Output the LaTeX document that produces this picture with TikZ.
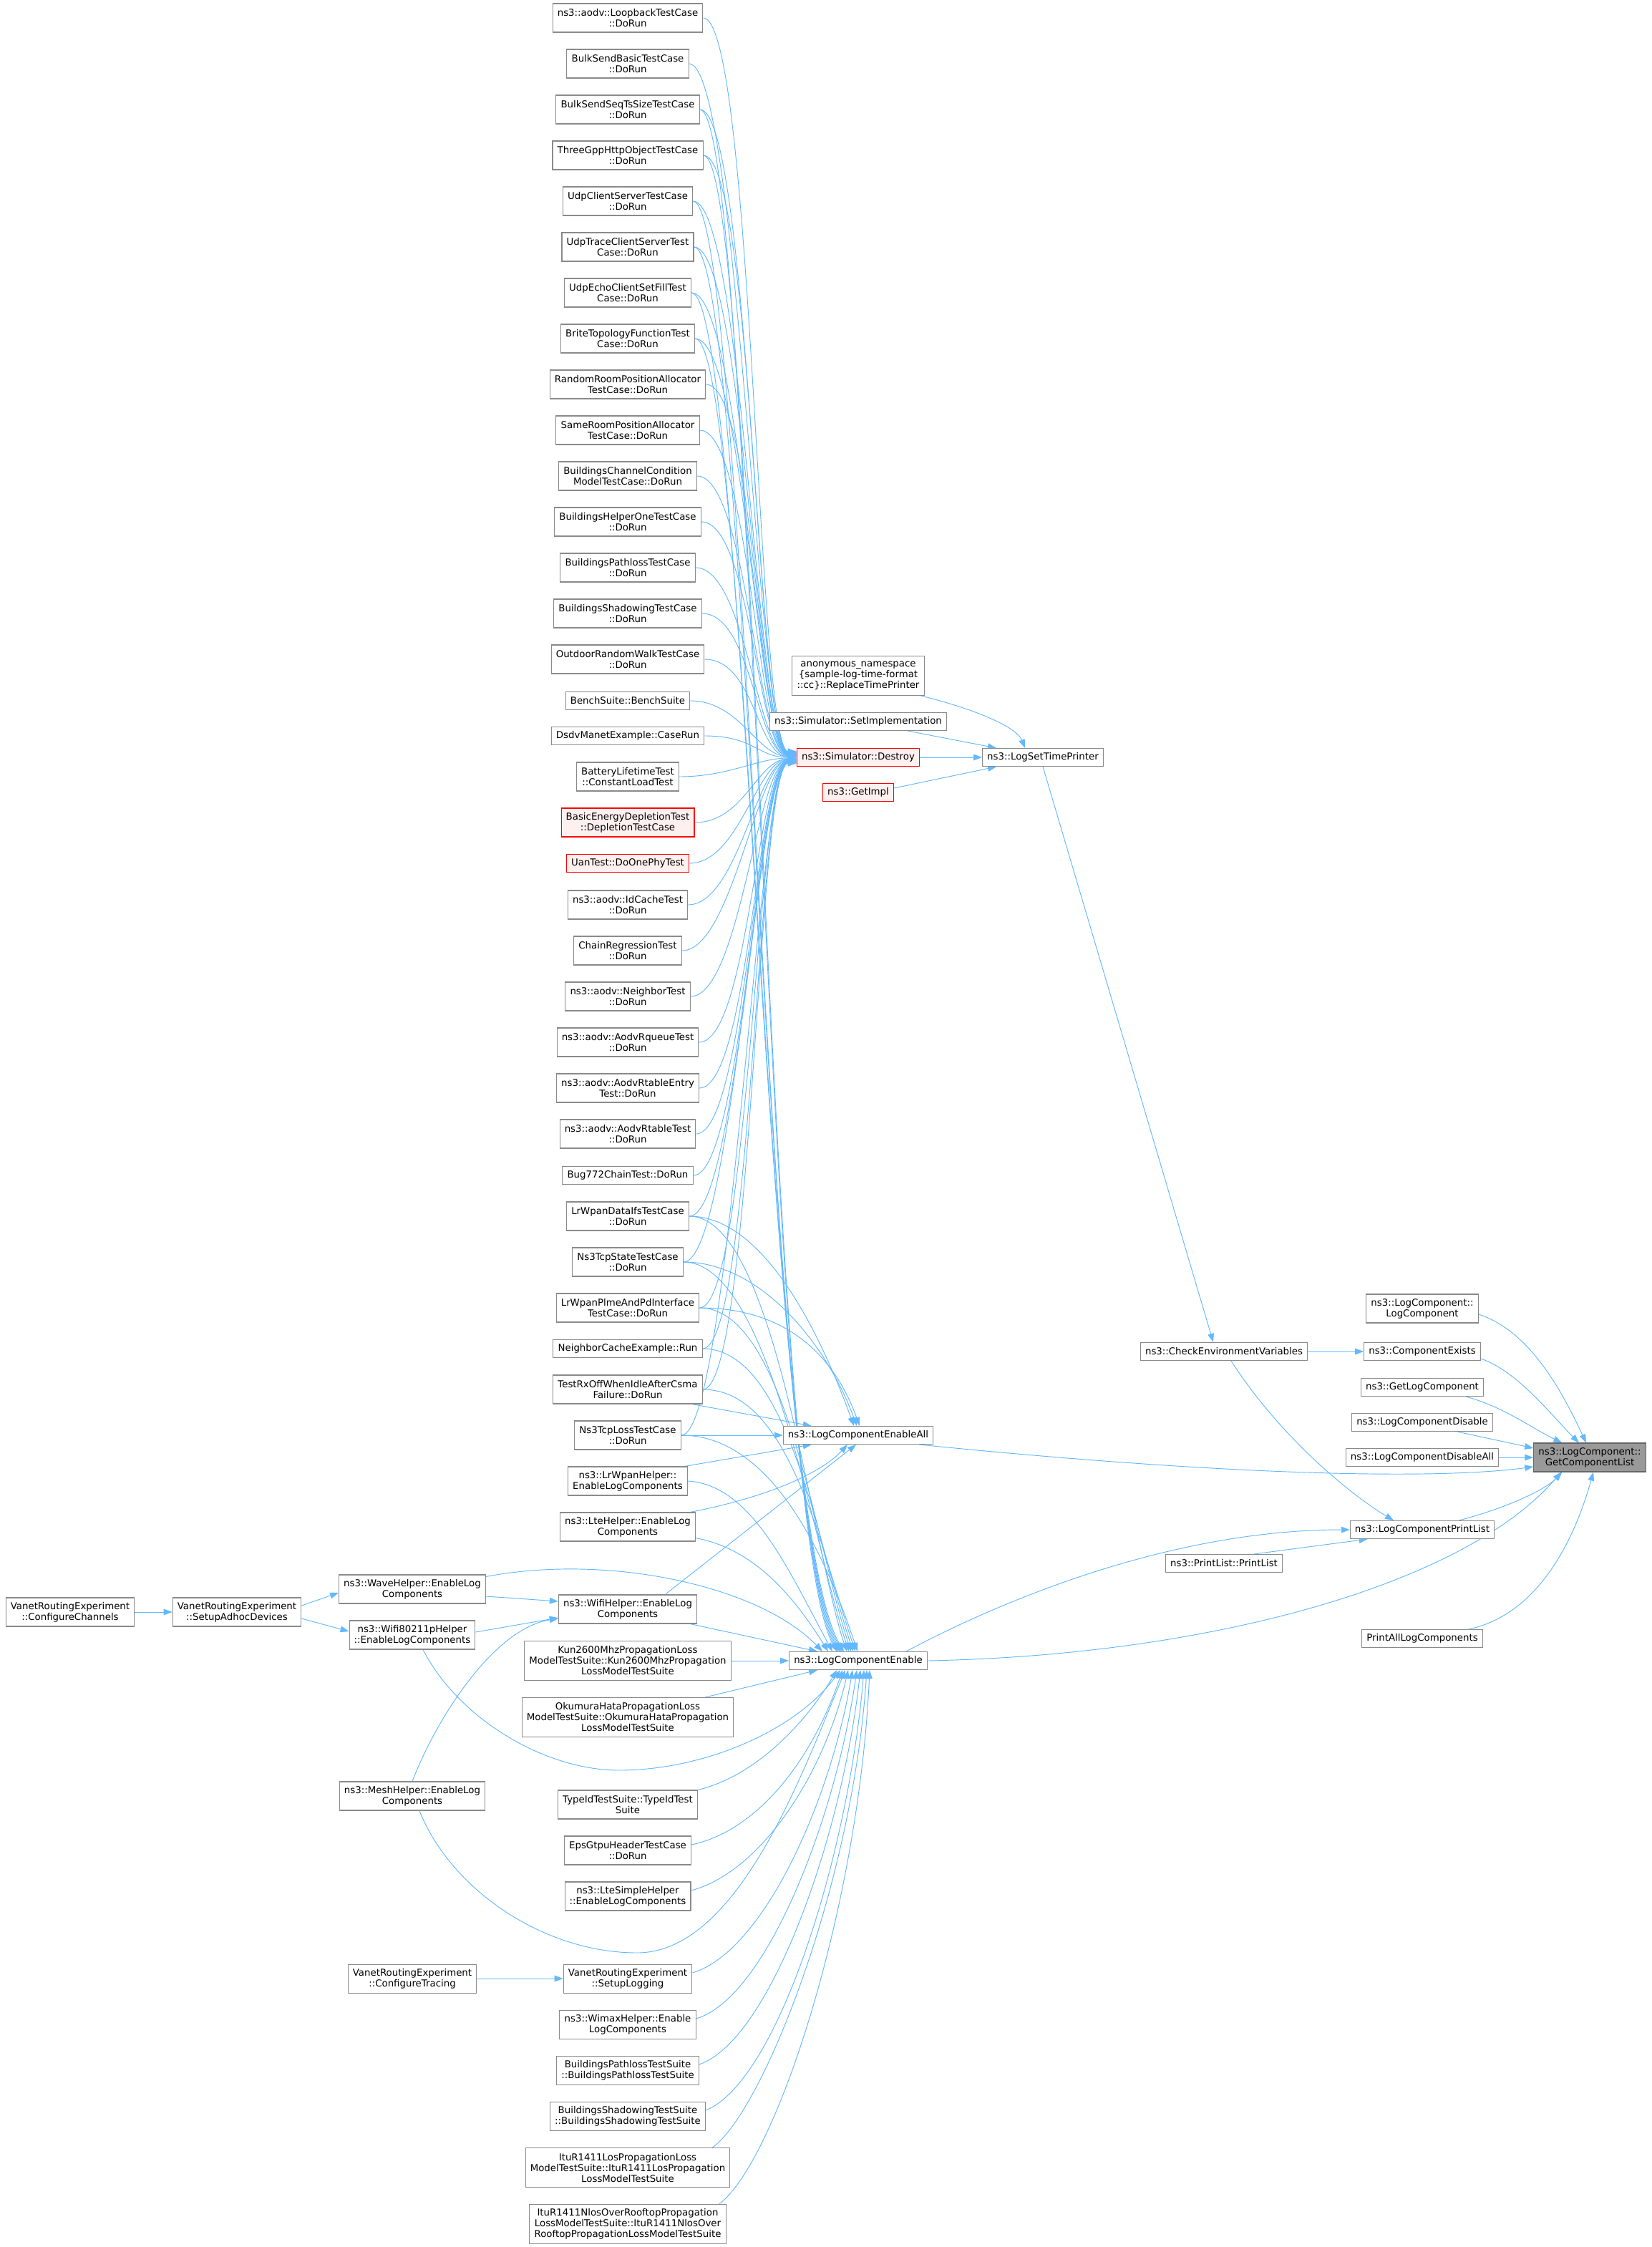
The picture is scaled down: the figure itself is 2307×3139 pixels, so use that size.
\documentclass[tikz,border=0pt]{standalone}
\usepackage{fontspec}
\setmainfont{DejaVu Sans}
\usetikzlibrary{arrows.meta,calc}
\pgfdeclarelayer{bg}
\pgfdeclarelayer{edges}
\pgfsetlayers{bg,edges,main}
\definecolor{edgecol}{HTML}{63B8FF}
\definecolor{ndline}{HTML}{8A8A8A}
\definecolor{redfill}{HTML}{FFF0F0}
\definecolor{hlfill}{HTML}{999999}
\definecolor{hlline}{HTML}{666666}
\newcommand\fnt{\fontsize{10pt}{11.25pt}\selectfont}
\newcommand\ED[2]{\draw[e] (#1.east) .. controls +(70,0) and +(-55,0) .. ($(des.west)+(0,#2)$);}
\newcommand\EU[2]{\draw[e] (#1.east) .. controls +(75,0) and (1068,2120) .. ($(en.north)+(#2,0)$);}
\newcommand\EL[2]{\draw[e] (#1.east) .. controls +(120,0) and +(-50,-150) .. ($(en.north)+(#2,0)$);}
\newcommand\EA[2]{\draw[e] (#1.east) .. controls +(110,0) and +(-40,-110) .. ($(ea.north)+(#2,0)$);}
\begin{document}
\begin{tikzpicture}[x=0.75pt,y=-0.75pt,
  nd/.style={draw=ndline, fill=white, line width=0.8pt, inner xsep=5pt, inner ysep=0pt, align=center, font=\fnt, text=black},
  n1/.style={nd, minimum height=18.75pt},
  n2/.style={nd, minimum height=30pt},
  n3/.style={nd, minimum height=41.25pt},
  rn/.style={draw=red, fill=redfill},
  hl/.style={draw=hlline, fill=hlfill},
  e/.style={draw=edgecol, line width=0.7pt, -{Triangle[length=9pt,width=6.5pt]}}]
\useasboundingbox (0,0) rectangle (2307,3139);
\begin{pgfonlayer}{bg}
\fill[white] (0,0) rectangle (2307,3139);
\end{pgfonlayer}

% ---------- left column ----------
\node[n2] (t1) at (877,25) {ns3::aodv::LoopbackTestCase\\::DoRun};
\node[n2] (t2) at (877,89) {BulkSendBasicTestCase\\::DoRun};
\node[n2] (t3) at (877,153) {BulkSendSeqTsSizeTestCase\\::DoRun};
\node[n2] (t4) at (877,217) {ThreeGppHttpObjectTestCase\\::DoRun};
\node[n2] (t5) at (877,281) {UdpClientServerTestCase\\::DoRun};
\node[n2] (t6) at (877,345) {UdpTraceClientServerTest\\Case::DoRun};
\node[n2] (t7) at (877,409) {UdpEchoClientSetFillTest\\Case::DoRun};
\node[n2] (t8) at (877,473) {BriteTopologyFunctionTest\\Case::DoRun};
\node[n2] (t9) at (877,537) {RandomRoomPositionAllocator\\TestCase::DoRun};
\node[n2] (t10) at (877,601) {SameRoomPositionAllocator\\TestCase::DoRun};
\node[n2] (t11) at (877,665) {BuildingsChannelCondition\\ModelTestCase::DoRun};
\node[n2] (t12) at (877,729) {BuildingsHelperOneTestCase\\::DoRun};
\node[n2] (t13) at (877,793) {BuildingsPathlossTestCase\\::DoRun};
\node[n2] (t14) at (877,857) {BuildingsShadowingTestCase\\::DoRun};
\node[n2] (t15) at (877,921) {OutdoorRandomWalkTestCase\\::DoRun};
\node[n1] (t16) at (877,979) {BenchSuite::BenchSuite};
\node[n1] (t17) at (877,1028) {DsdvManetExample::CaseRun};
\node[n2] (t18) at (877,1085) {BatteryLifetimeTest\\::ConstantLoadTest};
\node[n2,rn] (t19) at (877,1149) {BasicEnergyDepletionTest\\::DepletionTestCase};
\node[n1,rn] (t20) at (877,1206) {UanTest::DoOnePhyTest};
\node[n2] (t21) at (877,1264) {ns3::aodv::IdCacheTest\\::DoRun};
\node[n2] (t22) at (877,1328) {ChainRegressionTest\\::DoRun};
\node[n2] (t23) at (877,1392) {ns3::aodv::NeighborTest\\::DoRun};
\node[n2] (t24) at (877,1456) {ns3::aodv::AodvRqueueTest\\::DoRun};
\node[n2] (t25) at (877,1520) {ns3::aodv::AodvRtableEntry\\Test::DoRun};
\node[n2] (t26) at (877,1584) {ns3::aodv::AodvRtableTest\\::DoRun};
\node[n1] (t27) at (877,1642) {Bug772ChainTest::DoRun};
\node[n2] (t28) at (877,1699) {LrWpanDataIfsTestCase\\::DoRun};
\node[n2] (t29) at (877,1763) {Ns3TcpStateTestCase\\::DoRun};
\node[n2] (t30) at (877,1827) {LrWpanPlmeAndPdInterface\\TestCase::DoRun};
\node[n1] (t31) at (877,1884) {NeighborCacheExample::Run};
\node[n2] (t32) at (877,1941) {TestRxOffWhenIdleAfterCsma\\Failure::DoRun};
\node[n2] (t33) at (877,2005) {Ns3TcpLossTestCase\\::DoRun};
\node[n2] (h1) at (877,2069) {ns3::LrWpanHelper::\\EnableLogComponents};
\node[n2] (h2) at (877,2133) {ns3::LteHelper::EnableLog\\Components};
\node[n2] (h3) at (877,2248) {ns3::WifiHelper::EnableLog\\Components};
\node[n3] (s1) at (877,2320) {Kun2600MhzPropagationLoss\\ModelTestSuite::Kun2600MhzPropagation\\LossModelTestSuite};
\node[n3] (s2) at (877,2399) {OkumuraHataPropagationLoss\\ModelTestSuite::OkumuraHataPropagation\\LossModelTestSuite};
\node[n2] (s3) at (877,2521) {TypeIdTestSuite::TypeIdTest\\Suite};
\node[n2] (s4) at (877,2585) {EpsGtpuHeaderTestCase\\::DoRun};
\node[n2] (s5) at (877,2649) {ns3::LteSimpleHelper\\::EnableLogComponents};
\node[n2] (s6) at (877,2764) {VanetRoutingExperiment\\::SetupLogging};
\node[n2] (s7) at (877,2828) {ns3::WimaxHelper::Enable\\LogComponents};
\node[n2] (s8) at (877,2892) {BuildingsPathlossTestSuite\\::BuildingsPathlossTestSuite};
\node[n2] (s9) at (877,2956) {BuildingsShadowingTestSuite\\::BuildingsShadowingTestSuite};
\node[n3] (s10) at (877,3028) {ItuR1411LosPropagationLoss\\ModelTestSuite::ItuR1411LosPropagation\\LossModelTestSuite};
\node[n3] (s11) at (877,3107) {ItuR1411NlosOverRooftopPropagation\\LossModelTestSuite::ItuR1411NlosOver\\RooftopPropagationLossModelTestSuite};

% ---------- far left ----------
\node[n2] (f1) at (98,2252) {VanetRoutingExperiment\\::ConfigureChannels};
\node[n2] (f2) at (331,2252) {VanetRoutingExperiment\\::SetupAdhocDevices};
\node[n2] (f3) at (576,2220) {ns3::WaveHelper::EnableLog\\Components};
\node[n2] (f4) at (576,2284) {ns3::Wifi80211pHelper\\::EnableLogComponents};
\node[n2] (f5) at (576,2509) {ns3::MeshHelper::EnableLog\\Components};
\node[n2] (f6) at (576,2764) {VanetRoutingExperiment\\::ConfigureTracing};

% ---------- middle ----------
\node[n3] (m1) at (1199,944) {anonymous\_namespace\\\{sample-log-time-format\\::cc\}::ReplaceTimePrinter};
\node[n1] (m2) at (1199,1008) {ns3::Simulator::SetImplementation};
\node[n1,rn] (des) at (1199,1058) {ns3::Simulator::Destroy};
\node[n1,rn] (m4) at (1199,1107) {ns3::GetImpl};
\node[n1] (ea) at (1199,2005) {ns3::LogComponentEnableAll};
\node[n1] (en) at (1199,2320) {ns3::LogComponentEnable};
\node[n1] (lstp) at (1457,1058) {ns3::LogSetTimePrinter};
\node[n1] (ce) at (1710,1888) {ns3::CheckEnvironmentVariables};
\node[n1] (pl) at (1710,2184) {ns3::PrintList::PrintList};

% ---------- right ----------
\node[n2] (r1) at (1987,1828) {ns3::LogComponent::\\LogComponent};
\node[n1] (r2) at (1987,1888) {ns3::ComponentExists};
\node[n1] (r3) at (1987,1938) {ns3::GetLogComponent};
\node[n1] (r4) at (1987,1987) {ns3::LogComponentDisable};
\node[n1] (r5) at (1987,2036) {ns3::LogComponentDisableAll};
\node[n1] (r6) at (1987,2137) {ns3::LogComponentPrintList};
\node[n1] (r7) at (1987,2289) {PrintAllLogComponents};
\node[n2,hl] (gcl) at (2221,2036) {ns3::LogComponent::\\GetComponentList};

\begin{pgfonlayer}{edges}
% ---------- edges: tests -> Destroy ----------
\ED{t1}{-8} \ED{t2}{-8} \ED{t3}{-7} \ED{t4}{-7} \ED{t5}{-6} \ED{t6}{-6}
\ED{t7}{-5} \ED{t8}{-5} \ED{t9}{-4} \ED{t10}{-4} \ED{t11}{-3} \ED{t12}{-3}
\ED{t13}{-2} \ED{t14}{-2} \ED{t15}{-1} \ED{t16}{-1} \ED{t17}{0} \ED{t18}{1}
\ED{t19}{2} \ED{t20}{2} \ED{t21}{3} \ED{t22}{3} \ED{t23}{4} \ED{t24}{4}
\ED{t25}{5} \ED{t26}{5} \ED{t27}{6} \ED{t28}{6} \ED{t29}{7} \ED{t30}{7}
\ED{t31}{8} \ED{t32}{8} \ED{t33}{8}

% ---------- tests -> LogComponentEnable ----------
\EU{t3}{-30} \EU{t4}{-28} \EU{t5}{-26} \EU{t6}{-24} \EU{t7}{-22} \EU{t8}{-20}
\EL{t28}{-16} \EL{t29}{-13} \EL{t30}{-10} \EL{t31}{-7} \EL{t32}{-4} \EL{t33}{-1}

% ---------- -> LogComponentEnableAll ----------
\EA{t28}{-6} \EA{t29}{-2} \EA{t30}{2}
\draw[e] ($(t32.south east)+(-15,0)$) -- ($(ea.north west)+(40,0)$);
\draw[e] (t33.east) -- (ea.west);
\draw[e] ($(h1.north east)+(-5,0)$) -- ($(ea.south west)+(40,0)$);
\draw[e] ($(h2.north east)+(-8,0)$) .. controls (1080,2090) and (1150,2055) .. ($(ea.south)+(-15,0)$);
\draw[e] ($(h3.north east)+(-45,0)$) -- ($(ea.south)+(-3,0)$);

% ---------- helpers -> LogComponentEnable ----------
\draw[e] (h1.east) .. controls +(90,5) and +(-60,-110) .. ($(en.north)+(-36,0)$);
\draw[e] ($(h2.south east)+(0,-5)$) .. controls +(80,15) and +(-50,-80) .. ($(en.north)+(-42,0)$);
\draw[e] ($(h3.south east)+(-10,0)$) -- ($(en.north west)+(40,0)$);
\draw[e] ($(f3.north east)+(0,3)$) .. controls (850,2170) and (1060,2215) .. ($(en.north)+(-50,0)$);
\draw[e] ($(f4.south)+(15,0)$) .. controls (640,2400) and (760,2473) .. (865,2473) .. controls (980,2473) and (1110,2420) .. ($(en.south)+(-25,0)$);
\draw[e] ($(f5.south)+(10,0)$) .. controls (630,2640) and (760,2728) .. (890,2728) .. controls (1030,2728) and (1120,2480) .. ($(en.south)+(-18,0)$);

% ---------- far left edges ----------
\draw[e] (f1.east) -- (f2.west);
\draw[e] ($(f2.east)+(0,-9)$) -- ($(f3.west)+(0,5)$);
\draw[e] ($(f2.east)+(0,9)$) -- ($(f4.west)+(0,-5)$);
\draw[e] ($(f3.east)+(0,10)$) -- ($(h3.west)+(0,-11)$);
\draw[e] ($(f4.east)+(0,-4)$) -- ($(h3.west)+(0,12)$);
\draw[e] (f5.north) .. controls (610,2400) and (690,2275) .. ($(h3.west)+(0,13)$);
\draw[e] (f6.east) -- (s6.west);

% ---------- suites -> LogComponentEnable ----------
\draw[e] (s1.east) -- (en.west);
\draw[e] ($(s2.north east)+(-40,0)$) -- ($(en.south west)+(40,0)$);
\draw[e] (s3.north east) .. controls (1060,2480) and (1130,2400) .. ($(en.south)+(-30,0)$);
\draw[e] ($(s4.east)+(0,-8)$) .. controls +(95,-20) and +(-40,120) .. ($(en.south)+(-22,0)$);
\draw[e] ($(s5.east)+(0,-8)$) .. controls +(95,-25) and +(-35,150) .. ($(en.south)+(-14,0)$);
\draw[e] ($(s6.east)+(0,-8)$) .. controls +(100,-30) and +(-30,180) .. ($(en.south)+(-8,0)$);
\draw[e] ($(s7.east)+(0,-8)$) .. controls +(100,-30) and +(-28,200) .. ($(en.south)+(-2,0)$);
\draw[e] ($(s8.east)+(0,-8)$) .. controls +(100,-35) and +(-25,230) .. ($(en.south)+(3,0)$);
\draw[e] ($(s9.east)+(0,-8)$) .. controls +(100,-40) and +(-22,260) .. ($(en.south)+(8,0)$);
\draw[e] ($(s10.north east)+(-25,0)$) .. controls +(70,-50) and +(-20,300) .. ($(en.south)+(12,0)$);
\draw[e] ($(s11.north east)+(-10,0)$) .. controls +(80,-60) and +(-15,330) .. ($(en.south)+(16,0)$);

% ---------- middle edges ----------
\draw[e] ($(m1.south east)+(-5,0)$) .. controls (1360,990) and (1420,1015) .. ($(lstp.north)+(-25,0)$);
\draw[e] ($(m2.south east)+(-55,0)$) -- ($(lstp.north west)+(20,0)$);
\draw[e] (des.east) -- (lstp.west);
\draw[e] ($(m4.east)+(0,-6)$) -- ($(lstp.south west)+(20,0)$);
\draw[e] (lstp.south) -- ($(ce.north)+(-15,0)$);
\draw[e] (ce.east) -- (r2.west);
\draw[e] ($(ce.south)+(10,0)$) .. controls (1790,2010) and (1890,2090) .. ($(r6.north)+(-40,0)$);
\draw[e] ($(pl.north east)+(-40,0)$) -- ($(r6.south west)+(25,0)$);
\draw[e] ($(en.north east)+(-30,0)$) .. controls (1420,2225) and (1650,2137) .. (r6.west);
\draw[e] (en.east) .. controls (1700,2312) and (2050,2210) .. ($(gcl.south)+(-40,0)$);
\draw[e] ($(ea.south east)+(-20,0)$) .. controls (1700,2060) and (2000,2068) .. ($(gcl.west)+(0,13)$);

% ---------- right column -> GetComponentList ----------
\draw[e] ($(r1.east)+(0,8)$) .. controls (2140,1860) and (2185,1950) .. ($(gcl.north)+(-5,0)$);
\draw[e] ($(r2.south east)+(0,-3)$) .. controls (2120,1915) and (2170,1980) .. ($(gcl.north)+(-15,0)$);
\draw[e] ($(r3.south east)+(-25,0)$) .. controls (2100,1965) and (2140,1995) .. ($(gcl.north west)+(40,0)$);
\draw[e] ($(r4.south east)+(-50,0)$) -- ($(gcl.west)+(0,-13)$);
\draw[e] (r5.east) -- (gcl.west);
\draw[e] ($(r6.north east)+(-50,0)$) .. controls (2110,2105) and (2160,2080) .. ($(gcl.south west)+(40,0)$);
\draw[e] ($(r7.north east)+(-20,0)$) .. controls (2150,2255) and (2200,2150) .. ($(gcl.south)+(5,0)$);
\end{pgfonlayer}
\end{tikzpicture}
\end{document}
